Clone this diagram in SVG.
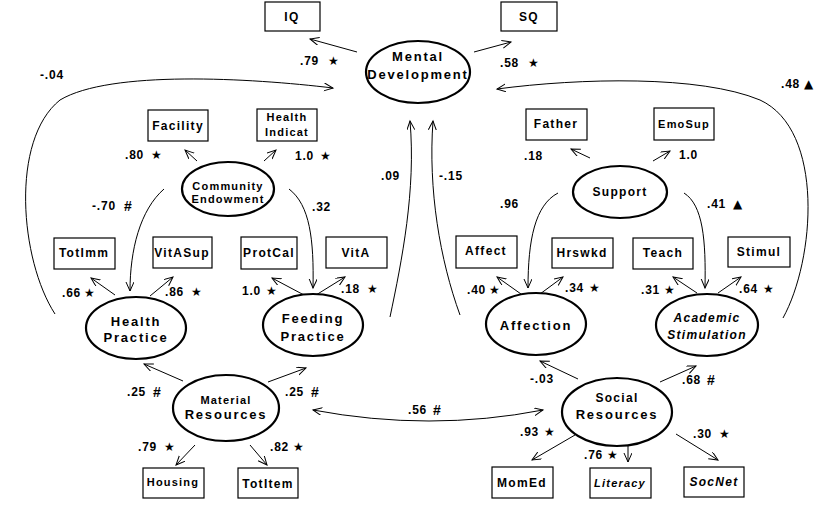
<svg xmlns="http://www.w3.org/2000/svg" width="831" height="507" viewBox="0 0 831 507">
<style>
.box{fill:#fff;stroke:#000;stroke-width:1.2}
.lat{fill:#fff;stroke:#000;stroke-width:2.2}
.t{font-family:"Liberation Sans",Arial,sans-serif;font-weight:bold;font-size:12px;letter-spacing:1.3px;text-anchor:middle;dominant-baseline:central;fill:#000}
.tl{font-size:13px;letter-spacing:1.8px}
.tc{font-size:11px;letter-spacing:1.2px}
.n{font-family:"Liberation Sans",Arial,sans-serif;font-weight:bold;font-size:12px;letter-spacing:0.8px;dominant-baseline:central;fill:#000}
.s{font-family:"DejaVu Sans",sans-serif;font-size:12px}
.c{fill:none;stroke:#000;stroke-width:1;marker-end:url(#ah)}
</style>
<defs>
<marker id="ah" markerUnits="userSpaceOnUse" markerWidth="12" markerHeight="10" refX="9" refY="4" orient="auto-start-reverse">
<path d="M0,0 L9,4 L0,8" fill="none" stroke="#000" stroke-width="1"/>
</marker>
</defs>
<rect width="831" height="507" fill="#fff"/>

<g id="connectors">
<path class="c" d="M357 52 L310 39"/>
<path class="c" d="M474 52 L511 42"/>
<path class="c" d="M197 161 L185 150"/>
<path class="c" d="M264 161 L276 150"/>
<path class="c" d="M164 189 C140 210 130 250 130 291"/>
<path class="c" d="M289 189 C310 205 314 240 313 288"/>
<path class="c" d="M115 295 L91 278"/>
<path class="c" d="M150 296 L173 277"/>
<path class="c" d="M304 295 L272 278"/>
<path class="c" d="M316 295 L345 277"/>
<path class="c" d="M390 317 C402 260 416 190 410 121"/>
<path class="c" d="M460 315 C440 260 428 190 433 121"/>
<path class="c" d="M55 314 C20 260 10 140 60 100 C110 70 250 78 333 88"/>
<path class="c" d="M783 318 C815 260 825 130 760 100 C700 75 580 78 497 89"/>
<path class="c" d="M590 158 L571 149"/>
<path class="c" d="M653 161 L670 151"/>
<path class="c" d="M558 193 C535 205 528 240 528 288"/>
<path class="c" d="M684 193 C703 205 706 240 705 288"/>
<path class="c" d="M521 294 L497 277"/>
<path class="c" d="M540 294 L563 277"/>
<path class="c" d="M697 293 L673 277"/>
<path class="c" d="M718 293 L741 277"/>
<path class="c" d="M183 381 L144 364"/>
<path class="c" d="M268 382 L306 368"/>
<path class="c" d="M313 410 Q430 432 543 410" marker-start="url(#ah)"/>
<path class="c" d="M578 379 L540 361"/>
<path class="c" d="M660 382 L696 366"/>
<path class="c" d="M195 445 L176 465"/>
<path class="c" d="M250 445 L267 465"/>
<path class="c" d="M575 435 L532 460"/>
<path class="c" d="M628 445 L628 462"/>
<path class="c" d="M676 434 L718 460"/>
</g>

<g id="IQ"><rect class="box" x="265" y="2" width="55" height="29"/><text class="t" x="292" y="17">IQ</text></g>
<g id="SQ"><rect class="box" x="501" y="2" width="56" height="29"/><text class="t" x="529" y="17">SQ</text></g>
<g id="MentalDevelopment"><ellipse class="lat" cx="418" cy="72" rx="52" ry="31"/><text class="t tl" x="418" y="56">Mental</text><text class="t tl" x="418" y="74">Development</text></g>
<g id="Facility"><rect class="box" x="148" y="110" width="60" height="31"/><text class="t" x="178" y="126">Facility</text></g>
<g id="HealthIndicat"><rect class="box" x="257" y="109" width="60" height="32"/><text class="t tc" x="287" y="117">Health</text><text class="t tc" x="287" y="132">Indicat</text></g>
<g id="CommunityEndowment"><ellipse class="lat" cx="228" cy="189" rx="46" ry="27"/><text class="t tc" x="228" y="186">Community</text><text class="t tc" x="228" y="199">Endowment</text></g>
<g id="TotImm"><rect class="box" x="54" y="238" width="61" height="31"/><text class="t" x="84" y="253">TotImm</text></g>
<g id="VitASup"><rect class="box" x="153" y="237" width="59" height="31"/><text class="t" x="182" y="253">VitASup</text></g>
<g id="ProtCal"><rect class="box" x="241" y="237" width="56" height="32"/><text class="t" x="269" y="253">ProtCal</text></g>
<g id="VitA"><rect class="box" x="326" y="237" width="61" height="31"/><text class="t" x="356" y="253">VitA</text></g>
<g id="HealthPractice"><ellipse class="lat" cx="136" cy="328" rx="50" ry="31"/><text class="t tl" x="136" y="321">Health</text><text class="t tl" x="136" y="337">Practice</text></g>
<g id="FeedingPractice"><ellipse class="lat" cx="313" cy="325" rx="50" ry="31"/><text class="t tl" x="313" y="318">Feeding</text><text class="t tl" x="313" y="336">Practice</text></g>
<g id="Father"><rect class="box" x="526" y="109" width="61" height="31"/><text class="t" x="556" y="124">Father</text></g>
<g id="EmoSup"><rect class="box" x="654" y="108" width="60" height="32"/><text class="t tc" x="684" y="124">EmoSup</text></g>
<g id="Support"><ellipse class="lat" cx="620" cy="192" rx="47" ry="26"/><text class="t" x="620" y="192">Support</text></g>
<g id="Affect"><rect class="box" x="456" y="236" width="61" height="32"/><text class="t" x="486" y="251">Affect</text></g>
<g id="Hrswkd"><rect class="box" x="552" y="238" width="61" height="30"/><text class="t" x="582" y="253">Hrswkd</text></g>
<g id="Teach"><rect class="box" x="633" y="238" width="60" height="31"/><text class="t" x="663" y="253">Teach</text></g>
<g id="Stimul"><rect class="box" x="728" y="237" width="62" height="30"/><text class="t" x="759" y="252">Stimul</text></g>
<g id="Affection"><ellipse class="lat" cx="536" cy="324" rx="50" ry="31"/><text class="t tl" x="536" y="325">Affection</text></g>
<g id="AcademicStimulation"><ellipse class="lat" cx="707" cy="325" rx="51" ry="31"/><text class="t" x="707" y="318" font-style="italic">Academic</text><text class="t" x="707" y="335" font-style="italic">Stimulation</text></g>
<g id="MaterialResources"><ellipse class="lat" cx="226" cy="408" rx="53" ry="33"/><text class="t tc" x="226" y="400" letter-spacing="2.5">Material</text><text class="t tl" x="226" y="414">Resources</text></g>
<g id="SocialResources"><ellipse class="lat" cx="617" cy="412" rx="55" ry="34"/><text class="t" x="617" y="398">Social</text><text class="t tl" x="617" y="414">Resources</text></g>
<g id="Housing"><rect class="box" x="143" y="468" width="61" height="30"/><text class="t tc" x="173" y="482">Housing</text></g>
<g id="TotItem"><rect class="box" x="238" y="468" width="60" height="30"/><text class="t" x="268" y="484">TotItem</text></g>
<g id="MomEd"><rect class="box" x="492" y="467" width="61" height="31"/><text class="t" x="522" y="483">MomEd</text></g>
<g id="Literacy"><rect class="box" x="590" y="468" width="61" height="30"/><text class="t tc" x="620" y="483" font-style="italic">Literacy</text></g>
<g id="SocNet"><rect class="box" x="684" y="467" width="60" height="30"/><text class="t" x="714" y="482" font-style="italic">SocNet</text></g>

<g id="labels">
<text class="n" x="300" y="61">.79<tspan class="s" dx="9">★</tspan></text>
<text class="n" x="500" y="63">.58<tspan class="s" dx="9">★</tspan></text>
<text class="n" x="40" y="75">-.04</text>
<text class="n" x="781" y="84">.48<tspan class="s" dx="4">▲</tspan></text>
<text class="n" x="125" y="155">.80<tspan class="s" dx="7">★</tspan></text>
<text class="n" x="295" y="156">1.0<tspan class="s" dx="6">★</tspan></text>
<text class="n" x="524" y="156">.18</text>
<text class="n" x="679" y="155">1.0</text>
<text class="n" x="381" y="176">.09</text>
<text class="n" x="439" y="176">-.15</text>
<text class="n" x="92" y="206">-.70<tspan dx="8" font-size="14">#</tspan></text>
<text class="n" x="312" y="207">.32</text>
<text class="n" x="500" y="204">.96</text>
<text class="n" x="707" y="204">.41<tspan class="s" dx="7">▲</tspan></text>
<text class="n" x="62" y="293">.66<tspan class="s" dx="3">★</tspan></text>
<text class="n" x="165" y="292">.86<tspan class="s" dx="7">★</tspan></text>
<text class="n" x="242" y="291">1.0<tspan class="s" dx="5">★</tspan></text>
<text class="n" x="341" y="289">.18<tspan class="s" dx="7">★</tspan></text>
<text class="n" x="467" y="290">.40<tspan class="s" dx="3">★</tspan></text>
<text class="n" x="565" y="288">.34<tspan class="s" dx="5">★</tspan></text>
<text class="n" x="641" y="290">.31<tspan class="s" dx="4">★</tspan></text>
<text class="n" x="739" y="289">.64<tspan class="s" dx="5">★</tspan></text>
<text class="n" x="127" y="392">.25<tspan dx="7" font-size="14">#</tspan></text>
<text class="n" x="285" y="392">.25<tspan dx="7" font-size="14">#</tspan></text>
<text class="n" x="530" y="379">-.03</text>
<text class="n" x="682" y="380">.68<tspan dx="6" font-size="14">#</tspan></text>
<text class="n" x="408" y="410">.56<tspan dx="6" font-size="14">#</tspan></text>
<text class="n" x="138" y="447">.79<tspan class="s" dx="7">★</tspan></text>
<text class="n" x="270" y="447">.82<tspan class="s" dx="4">★</tspan></text>
<text class="n" x="520" y="432">.93<tspan class="s" dx="5">★</tspan></text>
<text class="n" x="584" y="455">.76<tspan class="s" dx="4">★</tspan></text>
<text class="n" x="693" y="434">.30<tspan class="s" dx="7">★</tspan></text>
</g>
</svg>
